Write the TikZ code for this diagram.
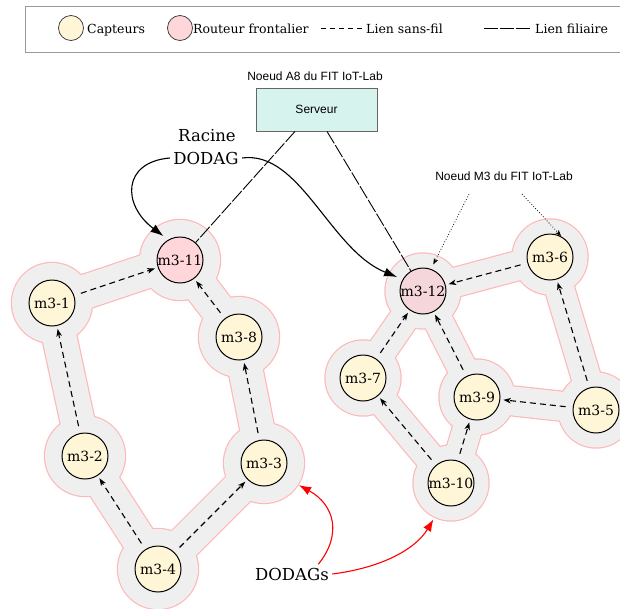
\documentclass[tikz,border=0pt]{standalone}
\usepackage{fontspec}
\setmainfont{DejaVu Serif}
\newfontfamily\sansf{Liberation Sans}
\usetikzlibrary{arrows.meta,backgrounds}
\definecolor{capt}{HTML}{FFF5D7}
\definecolor{rout}{HTML}{FFD6D9}
\definecolor{routb}{HTML}{F5D6DA}
\definecolor{halo}{HTML}{EFEFEF}
\definecolor{haloline}{HTML}{FFB8B8}
\definecolor{serv}{HTML}{D6F3EE}
\begin{document}
\begin{tikzpicture}[x=1pt,y=-1pt,
  capteur/.style={circle,draw=black,line width=1pt,fill=capt,minimum size=46pt,inner sep=0pt,font=\fontsize{14}{16}\selectfont},
  routeur/.style={capteur,fill=rout},
  wireless/.style={line width=1.1pt,dash pattern=on 6pt off 4pt,-{Stealth[length=7.5pt,width=5.5pt,inset=2pt]},shorten <=7pt,shorten >=3pt},
  wired/.style={line width=0.9pt,dash pattern=on 14pt off 2pt},
  dotarrow/.style={line width=0.8pt,dotted,-{Stealth[length=6pt,width=4.5pt,inset=1.5pt]}},
  bigarrow/.style={line width=1.1pt,-{Latex[length=13pt,width=9pt]}},
  redarrow/.style={red,line width=1.1pt,-{Latex[length=12pt,width=9pt]}},
  legtext/.style={anchor=base west,inner sep=0pt,font=\fontsize{12.5}{14}\selectfont},
  sanslab/.style={anchor=base,inner sep=0pt,font=\sansf\fontsize{12}{14}\selectfont},
  bigtext/.style={anchor=base,font=\fontsize{16.5}{20}\selectfont}
]
\useasboundingbox (0,0) rectangle (620,608);
% legend
\draw[gray!80,line width=0.9pt] (620,6) -- (25,6) -- (25,52) -- (620,52);
\node[circle,draw=black!80,line width=0.7pt,fill=capt,minimum size=25pt,inner sep=0pt] (lc) at (71,28) {};
\node[legtext] (lct) at (87,33) {Capteurs};
\node[circle,draw=black!80,line width=0.7pt,fill=rout,minimum size=25pt,inner sep=0pt] (lr) at (180,28) {};
\node[legtext] (lrt) at (193,33) {Routeur frontalier};
\coordinate (ld1) at (321,28);
\node[legtext] (lst) at (366,33) {Lien sans-fil};
\draw[line width=0.9pt,dash pattern=on 5pt off 4pt] (ld1) -- ([xshift=-3pt]lst.base west |- ld1);
\coordinate (lw1) at (484,28);
\node[legtext] (lwt) at (535,33) {Lien filiaire};
\draw[line width=0.9pt,dash pattern=on 14pt off 2pt] (lw1) -- ([xshift=-4pt]lwt.base west |- lw1);

% server
\node[sanslab] (a8) at (315,80.7) {Noeud A8 du FIT IoT-Lab};
\node[draw=black!60,line width=0.8pt,fill=serv,minimum width=121pt,minimum height=43pt,inner sep=0pt,font=\sansf\fontsize{12}{14}\selectfont] (serveur) at (316.5,109.5) {Serveur};

% nodes
\node[routeur] (m3-11) at (180,260) {m3-11};
\node[capteur] (m3-1) at (52,303) {m3-1};
\node[capteur] (m3-8) at (239,337) {m3-8};
\node[capteur] (m3-2) at (85,456) {m3-2};
\node[capteur] (m3-4) at (158,569) {m3-4};
\node[capteur] (m3-3) at (264,463) {m3-3};
\node[routeur,fill=routb] (m3-12) at (423,291) {m3-12};
\node[capteur] (m3-6) at (550,257) {m3-6};
\node[capteur] (m3-7) at (363,378) {m3-7};
\node[capteur] (m3-9) at (477,397) {m3-9};
\node[capteur] (m3-5) at (596,410) {m3-5};
\node[capteur] (m3-10) at (451,483) {m3-10};

% halos
\begin{scope}[on background layer]
  \foreach \a/\b in {m3-11/m3-1,m3-1/m3-2,m3-2/m3-4,m3-4/m3-3,m3-3/m3-8,m3-8/m3-11}
    \draw[haloline,line width=36.4pt] (\a.center) -- (\b.center);
  \foreach \a/\b in {m3-12/m3-6,m3-6/m3-5,m3-5/m3-9,m3-9/m3-12,m3-12/m3-7,m3-7/m3-10,m3-10/m3-9}
    \draw[haloline,line width=31.4pt] (\a.center) -- (\b.center);
  \foreach \n in {m3-11,m3-1,m3-2,m3-4,m3-3,m3-8}
    \fill[haloline] (\n.center) circle[radius=41.2pt];
  \foreach \n in {m3-12,m3-6,m3-5,m3-9,m3-7,m3-10}
    \fill[haloline] (\n.center) circle[radius=38.7pt];
  \foreach \a/\b in {m3-11/m3-1,m3-1/m3-2,m3-2/m3-4,m3-4/m3-3,m3-3/m3-8,m3-8/m3-11}
    \draw[halo,line width=34pt] (\a.center) -- (\b.center);
  \foreach \a/\b in {m3-12/m3-6,m3-6/m3-5,m3-5/m3-9,m3-9/m3-12,m3-12/m3-7,m3-7/m3-10,m3-10/m3-9}
    \draw[halo,line width=29pt] (\a.center) -- (\b.center);
  \foreach \n in {m3-11,m3-1,m3-2,m3-4,m3-3,m3-8}
    \fill[halo] (\n.center) circle[radius=40pt];
  \foreach \n in {m3-12,m3-6,m3-5,m3-9,m3-7,m3-10}
    \fill[halo] (\n.center) circle[radius=37.5pt];
\end{scope}

% wireless links
\foreach \a/\b in {m3-1/m3-11,m3-2/m3-1,m3-4/m3-2,m3-4/m3-3,m3-3/m3-8,m3-8/m3-11,m3-6/m3-12,m3-5/m3-6,m3-5/m3-9,m3-9/m3-12,m3-7/m3-12,m3-10/m3-7,m3-10/m3-9}
  \draw[wireless] (\a) -- (\b);

% wired links
\draw[wired] ([xshift=-21.5pt]serveur.south) -- (m3-11);
\draw[wired] ([xshift=10.5pt]serveur.south) -- (m3-12);

% M3 label
\node[sanslab] (m3lab) at (504,180) {Noeud M3 du FIT IoT-Lab};
\coordinate (d1) at (469,194);
\coordinate (d2) at (522,194);
\draw[dotarrow,shorten >=5pt] (d1) -- (m3-12.70);
\draw[dotarrow,shorten >=1pt] (d2) -- (m3-6.60);

% Racine DODAG
\node[bigtext] (racine) at (207,141.7) {Racine};
\node[bigtext] (dodag) at (206,164) {DODAG};
\draw[bigarrow,shorten >=6pt] (dodag.west) .. controls (122,162) and (122,205) .. (m3-11.120);
\draw[bigarrow,shorten >=6pt] (dodag.east) .. controls (300,150) and (330,250) .. (m3-12.150);

% DODAGs
\node[bigtext] (dodags) at (292,580) {DODAGs};
\draw[redarrow,shorten >=18pt] ([xshift=-14pt]dodags.north east) .. controls (342,535) and (335,505) .. (m3-3.-35);
\draw[redarrow,shorten >=17pt] (dodags.east) .. controls (380,568) and (415,550) .. (m3-10.-112);
\end{tikzpicture}
\end{document}
